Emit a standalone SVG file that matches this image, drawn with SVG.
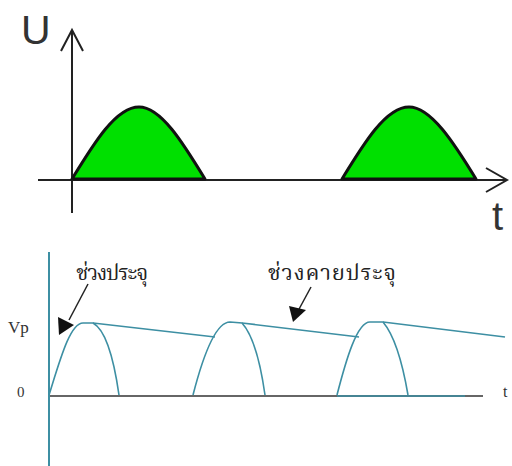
<svg xmlns="http://www.w3.org/2000/svg" width="512" height="466" viewBox="0 0 512 466">
<style>
.ax{stroke:#222;stroke-width:2;fill:none}
.hump{fill:#00e000;stroke:#111;stroke-width:3;stroke-linejoin:round}
.wave{fill:none;stroke:#3d8fa3;stroke-width:1.6}
.lbl{font-family:"Liberation Sans",Arial,sans-serif;fill:#333}
.ser{font-family:"Liberation Serif","Times New Roman",serif;fill:#333}
.thai{font-family:"Noto Serif Thai","Noto Sans Thai","Liberation Serif","DejaVu Serif",serif;fill:#222}
.arr{stroke:#222;stroke-width:1.5;fill:none}
</style>
<rect width="512" height="466" fill="#fff"/>
<g id="top-plot">
  <g id="u-axis">
    <line class="ax" x1="72" y1="30" x2="72" y2="213"/>
    <polyline class="ax" points="61,51 72,30 83,51"/>
  </g>
  <g id="t-axis">
    <line class="ax" x1="38" y1="180" x2="507" y2="180"/>
    <polyline class="ax" points="486,168 507,180 486,192"/>
  </g>
  <g id="hump1">
    <path class="hump" d="M72,179 C94,143 116,107 139,107 C161,107 183,143 205,179 Z"/>
  </g>
  <g id="hump2">
    <path class="hump" d="M342,179 C364,143 386,107 409,107 C431,107 454,143 476,179 Z"/>
  </g>
  <text class="lbl" x="21" y="44" font-size="41">U</text>
  <text class="lbl" x="492" y="230" font-size="40">t</text>
</g>
<g id="bottom-plot">
  <g id="axes">
    <line x1="49" y1="252" x2="49" y2="466" stroke="#3d8fa3" stroke-width="2"/>
    <line x1="50" y1="396" x2="483" y2="396" stroke="#333" stroke-width="1.6"/>
    <line x1="337" y1="396" x2="465" y2="396" stroke="#3d8fa3" stroke-width="1.6"/>
  </g>
  <g id="ripple">
    <path class="wave" d="M49,395 C60,360 70,323 83,323 L93,323 C106,330 114,360 119,395"/>
    <path class="wave" d="M93,323 L215,337"/>
    <path class="wave" d="M193,395 C202,360 215,322 230,322 L242,323 C253,335 260,360 265,395"/>
    <path class="wave" d="M242,323 L359,337"/>
    <path class="wave" d="M337,395 C346,360 357,322 370,322 L383,322 C394,335 402,360 408,395"/>
    <path class="wave" d="M383,322 L505,337"/>
  </g>
  <g id="charge-label">
    <text class="thai" x="75" y="280" font-size="21" textLength="72">ช่วงประจุ</text>
    <line class="arr" x1="88" y1="284" x2="69" y2="320"/>
    <polygon points="58,317 59,335 74,325" fill="#111"/>
  </g>
  <g id="discharge-label">
    <text class="thai" x="268" y="280" font-size="22" textLength="128">ช่วงคายประจุ</text>
    <line class="arr" x1="311" y1="287" x2="298" y2="311"/>
    <polygon points="289,306 306,310 293,322" fill="#111"/>
  </g>
  <text class="ser" x="8" y="333" font-size="17">Vp</text>
  <text class="ser" x="17" y="397" font-size="15">0</text>
  <text class="ser" x="503" y="397" font-size="16">t</text>
</g>
</svg>
